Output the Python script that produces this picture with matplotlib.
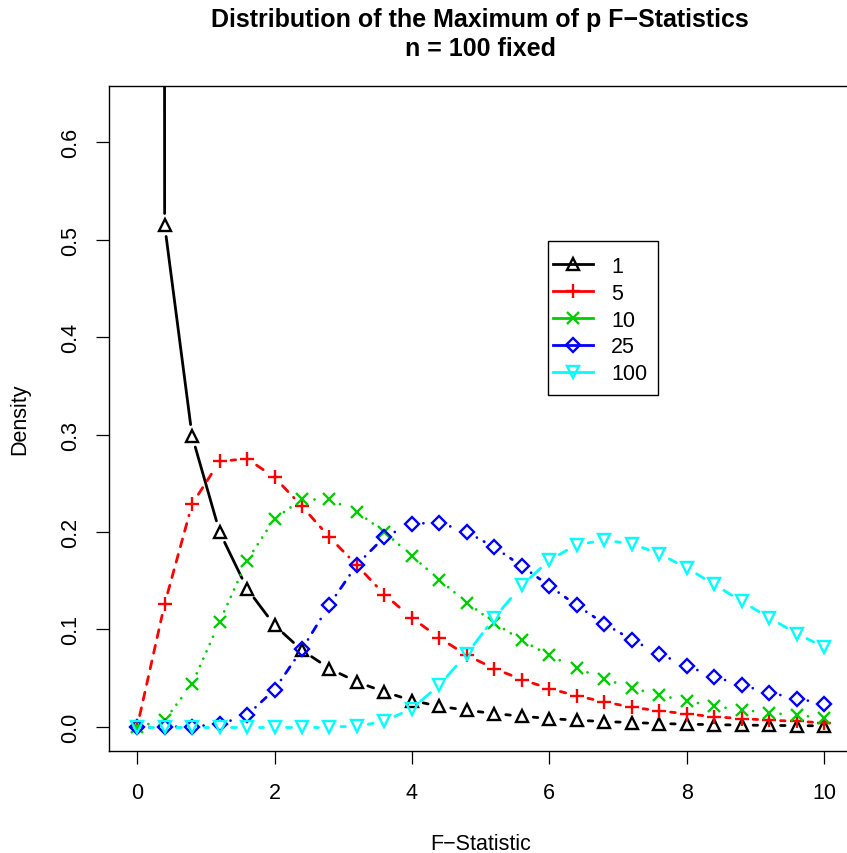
import numpy as np
import matplotlib
matplotlib.use("Agg")
import matplotlib.pyplot as plt
from matplotlib.lines import Line2D
from matplotlib.patches import Rectangle

plt.rcParams['font.family'] = ['Liberation Sans', 'DejaVu Sans']
plt.rcParams['lines.scale_dashes'] = False

# grid of F values where the densities were evaluated
f_values = [0.0, 0.4, 0.8, 1.2, 1.6, 2.0, 2.4, 2.8, 3.2, 3.6, 4.0, 4.4, 4.8,
            5.2, 5.6, 6.0, 6.4, 6.8, 7.2, 7.6, 8.0, 8.4, 8.8, 9.2, 9.6, 10.0]

# density of the max of p F-statistics
dens_p1 = [50.0, 0.515, 0.2985, 0.200, 0.1418, 0.1042, 0.0786, 0.0598, 0.0461,
           0.0359, 0.027, 0.0211, 0.017, 0.0136, 0.0109, 0.0085, 0.0068, 0.0054,
           0.0044, 0.0034, 0.0027, 0.0022, 0.0018, 0.0015, 0.0012, 0.001]
dens_p5 = [0.0, 0.126, 0.2287, 0.2724, 0.2752, 0.256, 0.2263, 0.1945, 0.1658,
           0.1357, 0.1118, 0.0913, 0.0734, 0.0598, 0.0485, 0.0393, 0.0318, 0.0256,
           0.0201, 0.0164, 0.0133, 0.0103, 0.0085, 0.0068, 0.0057, 0.0041]
dens_p10 = [0.0, 0.0068, 0.0441, 0.1077, 0.1706, 0.2136, 0.2334, 0.2334, 0.2205,
            0.200, 0.1754, 0.1508, 0.1275, 0.1066, 0.0888, 0.0734, 0.0601, 0.0492,
            0.040, 0.0324, 0.0267, 0.0211, 0.0174, 0.0144, 0.0119, 0.0092]
dens_p25 = [0.0, 0.0, 0.0003, 0.0027, 0.0119, 0.0383, 0.0796, 0.1254, 0.1665,
            0.1949, 0.2085, 0.2095, 0.200, 0.1842, 0.1651, 0.1446, 0.1247, 0.1059,
            0.0895, 0.0749, 0.0626, 0.0516, 0.0427, 0.0352, 0.029, 0.0239]
dens_p100 = [0.0, 0.0, 0.0, 0.0, 0.0, 0.0, 0.0, 0.0, 0.0005, 0.0057, 0.0188,
             0.0427, 0.0749, 0.1118, 0.1452, 0.1709, 0.187, 0.1914, 0.188, 0.1777,
             0.163, 0.1463, 0.1288, 0.1121, 0.0957, 0.082]

p_labels = ["1", "5", "10", "25", "100"]

px = 0.72  # points per pixel at dpi 100
series = [
    (dens_p1, "black", "^", 9, None),
    (dens_p5, "red", "+", 10.5, (8 * px, 8 * px)),
    (dens_p10, "#00CD00", "x", 8, (0.01, 8 * px)),
    (dens_p25, "blue", "D", 7, (0.01, 8 * px, 8 * px, 8 * px)),
    (dens_p100, "cyan", "v", 9, (14 * px, 6 * px)),
]

fig = plt.figure(figsize=(8.47, 8.54), dpi=100)
ax = fig.add_axes([109 / 847, (854 - 751.7) / 854, (851.5 - 109) / 847, (751.7 - 86.7) / 854])
ax.set_xlim(-0.41, 10.4)
ax.set_ylim(-0.0245, 0.658)

# R type="b": segments stop short of each point
gap = 11.5  # pixels
to_px = ax.transData
to_data = ax.transData.inverted()

handles = []
for (dens, col, mk, ms, dash), lab in zip(series, p_labels):
    pts = to_px.transform(np.column_stack([f_values, dens]))
    for a, b in zip(pts[:-1], pts[1:]):
        d = b - a
        L = np.hypot(*d)
        if L <= 2 * gap:
            continue
        u = d / L
        seg = to_data.transform(np.array([a + u * gap, b - u * gap]))
        ln, = ax.plot(seg[:, 0], seg[:, 1], color=col, lw=2.0,
                      dash_capstyle="round", solid_capstyle="round")
        if dash is not None:
            ln.set_dashes(dash)
    ax.plot(f_values, dens, ls="none", marker=mk, ms=ms, mfc="none",
            mec=col, mew=1.7)
    handles.append(Line2D([], [], color=col, lw=2.0, marker=mk, ms=ms,
                          mfc="none", mec=col, mew=1.7))

ax.set_xticks([0, 2, 4, 6, 8, 10])
ax.set_yticks([0.0, 0.1, 0.2, 0.3, 0.4, 0.5, 0.6])
ax.set_yticklabels(["0.0", "0.1", "0.2", "0.3", "0.4", "0.5", "0.6"],
                   rotation=90, va="center")
ax.tick_params(axis="both", direction="out", length=9.4, width=0.9,
               labelsize=15.5)
ax.tick_params(axis="x", pad=13)
ax.tick_params(axis="y", pad=11)
for sp in ax.spines.values():
    sp.set_linewidth(1.0)

ax.set_xlabel("F\u2212Statistic", fontsize=15.5, va="center")
ax.xaxis.set_label_coords(0.5, (751.7 - 845) / 665)
ax.set_ylabel("Density", fontsize=15.5, va="center")
ax.yaxis.set_label_coords((20 - 109) / 742.5, 0.5)

fig.text((109 + 851.5) / 2 / 847, 1 - 34.5 / 854,
         "Distribution of the Maximum of p F\u2212Statistics\nn = 100 fixed",
         ha="center", va="center", fontsize=18, fontweight="bold",
         linespacing=1.22)

# legend box drawn by hand, entries placed inside it
ax_w, ax_h = 742.5, 665.0
box = Rectangle(((548 - 109) / ax_w, (751.7 - 396) / ax_h),
                110 / ax_w, 154 / ax_h, transform=ax.transAxes,
                facecolor="white", edgecolor="black", lw=1.0, zorder=5)
ax.add_patch(box)
leg = ax.legend(handles, p_labels, loc="upper left",
                bbox_to_anchor=((553 - 109) / ax_w, (751.7 - 257) / ax_h),
                fontsize=15.5, frameon=False,
                handlelength=1.85, handletextpad=0.85, labelspacing=0.27,
                borderpad=0, borderaxespad=0)
leg.set_zorder(6)

fig.savefig("out.png", dpi=100)
